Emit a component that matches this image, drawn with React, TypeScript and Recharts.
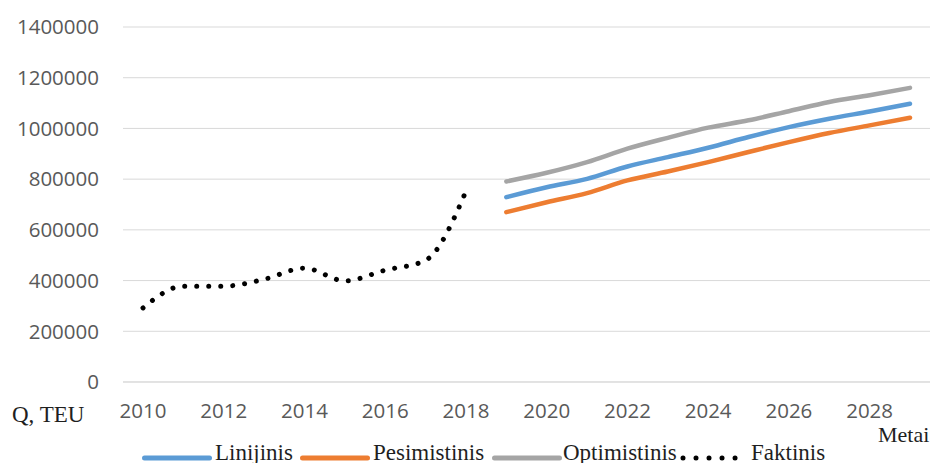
import React from 'react';
import { LineChart, Line, XAxis, YAxis, CartesianGrid } from 'recharts';

const years = ['2010','2011','2012','2013','2014','2015','2016','2017','2018','2019','2020','2021','2022','2023','2024','2025','2026','2027','2028','2029'];
const faktinis = [292000, 378000, 378000, 405000, 449000, 399000, 441000, 480000, 752000, null, null, null, null, null, null, null, null, null, null, null];
const linijinis = [null, null, null, null, null, null, null, null, null, 729000, 768000, 801000, 850000, 887000, 924000, 966000, 1005000, 1038000, 1067000, 1097000];
const pesimistinis = [null, null, null, null, null, null, null, null, null, 670000, 709000, 745000, 795000, 830000, 867000, 907000, 946000, 982000, 1012000, 1042000];
const optimistinis = [null, null, null, null, null, null, null, null, null, 791000, 825000, 867000, 920000, 963000, 1003000, 1032000, 1068000, 1104000, 1131000, 1160000];
const yTicks = [0, 200000, 400000, 600000, 800000, 1000000, 1200000, 1400000];

const data = years.map((y, i) => ({
  year: y,
  Linijinis: linijinis[i],
  Pesimistinis: pesimistinis[i],
  Optimistinis: optimistinis[i],
  Faktinis: faktinis[i],
}));

const legendItems = [
  { name: 'Linijinis', color: '#5b9bd5', dotted: false, left: 142, gap: 3 },
  { name: 'Pesimistinis', color: '#ed7d31', dotted: false, left: 300, gap: 3 },
  { name: 'Optimistinis', color: '#a5a5a5', dotted: false, left: 492, gap: 1 },
  { name: 'Faktinis', color: '#000000', dotted: true, left: 677, gap: 6 },
];

const serif = '"Liberation Serif", "DejaVu Serif", serif';
const tickFont = { fontFamily: '"Open Sans", sans-serif', fontSize: 20.5, fill: '#595959' };

export default function App() {
  return (
    <div style={{ position: 'absolute', left: 0, top: 0, width: 932, height: 463, overflow: 'hidden', background: '#fff' }}>
      <LineChart width={932} height={463} data={data} margin={{ top: 27, right: 2, left: 0, bottom: 51 }}>
        <CartesianGrid vertical={false} stroke="#d9d9d9" strokeWidth={1} />
        <XAxis
          dataKey="year"
          interval={1}
          height={30}
          padding={{ left: 20, right: 20 }}
          axisLine={{ stroke: '#d9d9d9' }}
          tickLine={false}
          tickSize={0}
          tickMargin={21}
          tick={tickFont}
        />
        <YAxis
          width={123}
          domain={[0, 1400000]}
          ticks={yTicks}
          axisLine={false}
          tickLine={false}
          tickSize={0}
          tickMargin={24}
          tick={tickFont}
        />
        <Line type="monotone" dataKey="Linijinis" stroke="#5b9bd5" strokeWidth={4.5} strokeLinecap="round" dot={false} activeDot={false} isAnimationActive={false} />
        <Line type="monotone" dataKey="Pesimistinis" stroke="#ed7d31" strokeWidth={4.5} strokeLinecap="round" dot={false} activeDot={false} isAnimationActive={false} />
        <Line type="monotone" dataKey="Optimistinis" stroke="#a5a5a5" strokeWidth={4.5} strokeLinecap="round" dot={false} activeDot={false} isAnimationActive={false} />
        <Line type="monotone" dataKey="Faktinis" stroke="#000000" strokeWidth={5} strokeLinecap="round" strokeDasharray="0.01 12" dot={false} activeDot={false} isAnimationActive={false} />
      </LineChart>
      <div style={{ position: 'absolute', left: 12, top: 402.7, fontFamily: serif, fontSize: 23, lineHeight: '23px', color: '#1f1f1f', whiteSpace: 'nowrap' }}>Q, TEU</div>
      <div style={{ position: 'absolute', left: 878, top: 424, fontFamily: serif, fontSize: 22, lineHeight: '22px', color: '#1f1f1f', whiteSpace: 'nowrap' }}>Metai</div>
      {legendItems.map((it) => (
        <div key={it.name} style={{ position: 'absolute', left: it.left, top: 441, display: 'flex', alignItems: 'flex-start', whiteSpace: 'nowrap' }}>
          <svg width={it.dotted ? 68 : 70} height={8} style={{ marginTop: 12.5, marginRight: it.gap, overflow: 'visible' }}>
            {it.dotted ? (
              <line x1={6} y1={4} x2={66} y2={4} stroke={it.color} strokeWidth={5} strokeLinecap="round" strokeDasharray="0.01 13" />
            ) : (
              <line x1={2.5} y1={4} x2={67.5} y2={4} stroke={it.color} strokeWidth={5} strokeLinecap="round" />
            )}
          </svg>
          <span style={{ fontFamily: serif, fontSize: 23, lineHeight: '23px', color: '#1f1f1f' }}>{it.name}</span>
        </div>
      ))}
    </div>
  );
}
